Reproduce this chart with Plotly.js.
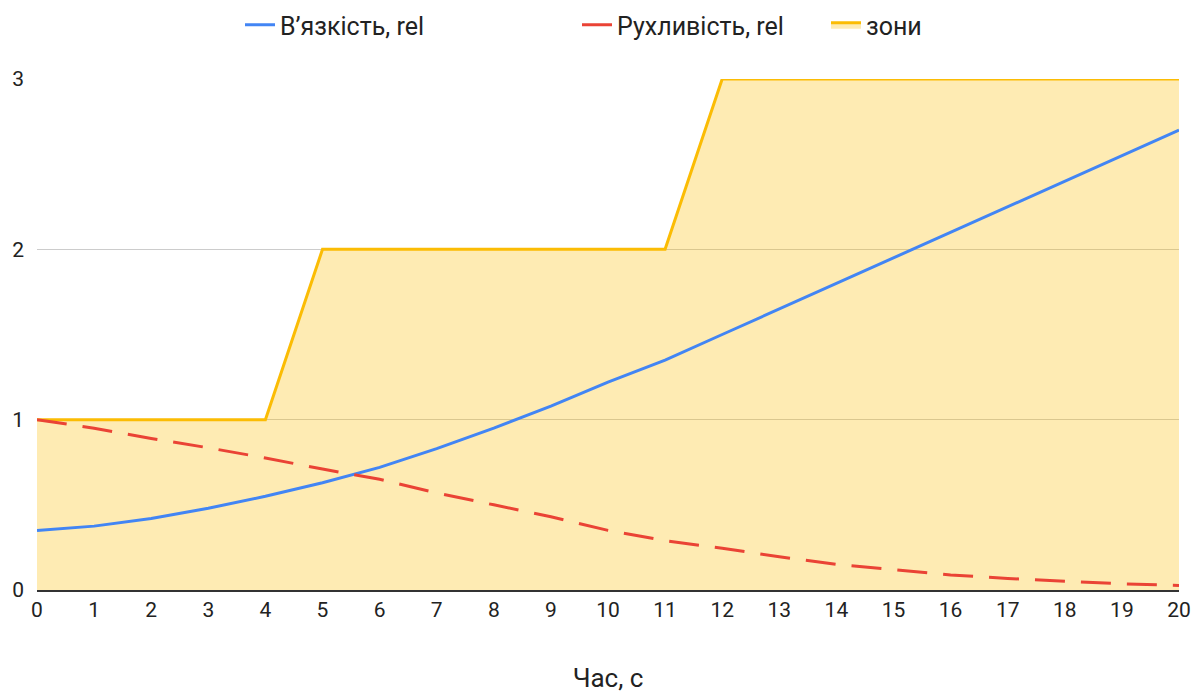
<!DOCTYPE html>
<html>
<head>
<meta charset="utf-8">
<script src="https://cdn.plot.ly/plotly-3.0.1.min.js"></script>
<style>html,body{margin:0;padding:0;background:#fff;}#chart{width:1195px;height:693px;}</style>
</head>
<body>
<div id="chart"></div>
<script>
const time = [0,1,2,3,4,5,6,7,8,9,10,11,12,13,14,15,16,17,18,19,20];
const viscosity = [0.35,0.375,0.42,0.48,0.55,0.63,0.72,0.83,0.95,1.08,1.22,1.35,1.50,1.65,1.80,1.95,2.10,2.25,2.40,2.55,2.70];
const mobility = [1.0,0.95,0.89,0.835,0.775,0.71,0.65,0.57,0.50,0.43,0.35,0.29,0.245,0.195,0.15,0.117,0.088,0.068,0.05,0.036,0.027];
const zones = [1,1,1,1,1,2,2,2,2,2,2,2,3,3,3,3,3,3,3,3,3];
const seriesNames = ["В’язкість, rel","Рухливість, rel","зони"];
const xTickVals = time;
const yTickVals = [0,1,2,3];

const traces = [
  {x: time, y: zones, name: seriesNames[2], type: 'scatter', mode: 'lines',
   fill: 'tozeroy', fillcolor: 'rgba(251,188,4,0.3)',
   line: {color: '#fbbc04', width: 3}, legend: 'legend3'},
  {x: time, y: viscosity, name: seriesNames[0], type: 'scatter', mode: 'lines',
   line: {color: '#4285f4', width: 3}, legend: 'legend'},
  {x: time, y: mobility, name: seriesNames[1], type: 'scatter', mode: 'lines',
   line: {color: '#ea4335', width: 3, dash: '30px,16px'}, legend: 'legend2'}
];

function leg(textStart) {
  return {orientation: 'h', x: (textStart - 40) / 1195, xanchor: 'left', xref: 'container',
          y: 1 - 25/693, yanchor: 'middle', yref: 'container',
          font: {size: 25, color: '#222'}, itemwidth: 30, bgcolor: 'rgba(0,0,0,0)'};
}

const layout = {
  width: 1195, height: 693,
  margin: {l: 37, r: 16, t: 79, b: 103},
  paper_bgcolor: '#fff', plot_bgcolor: '#fff',
  font: {family: 'Roboto, Arial, sans-serif', color: '#222'},
  showlegend: true,
  legend: leg(280),
  legend2: leg(617),
  legend3: leg(866),
  xaxis: {range: [0, 20], tickvals: xTickVals, ticktext: xTickVals.map(String),
          showgrid: false, zeroline: false, showline: true, linecolor: '#333', linewidth: 1.5,
          ticks: '', tickfont: {size: 21, color: '#222'}, fixedrange: true,
          title: {text: 'Час, с', font: {size: 26, color: '#222'}, standoff: 53}, automargin: false},
  yaxis: {range: [0, 3], tickvals: yTickVals, ticktext: yTickVals.map(String),
          showgrid: true, gridcolor: '#cccccc', gridwidth: 1, zeroline: false,
          ticks: '', tickfont: {size: 21, color: '#222'}, ticklabelstandoff: 12, fixedrange: true, automargin: false}
};

Plotly.newPlot('chart', traces, layout, {displayModeBar: false, staticPlot: true});
</script>
</body>
</html>
